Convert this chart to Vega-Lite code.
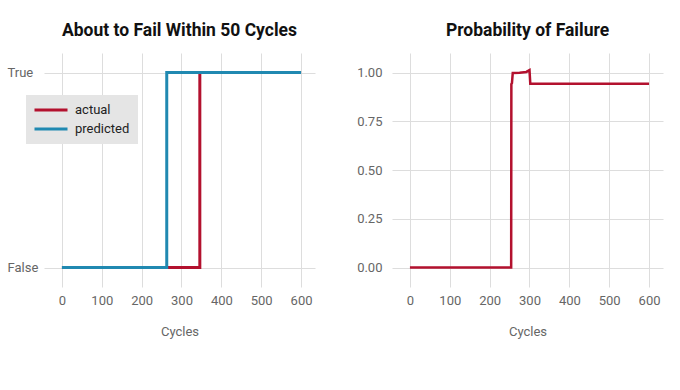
{
  "$schema": "https://vega.github.io/schema/vega-lite/v6.json",
  "background": "white",
  "padding": {"left": 7, "top": 21, "right": 5, "bottom": 5},
  "spacing": 41,
  "datasets": {
    "fail": [
      {"cycle": 0, "value": 0, "series": "actual"},
      {"cycle": 346, "value": 1, "series": "actual"},
      {"cycle": 600, "value": 1, "series": "actual"},
      {"cycle": 0, "value": 0, "series": "predicted"},
      {"cycle": 263, "value": 1, "series": "predicted"},
      {"cycle": 600, "value": 1, "series": "predicted"}
    ],
    "prob": [
      {"cycle": 0, "p": 0},
      {"cycle": 254, "p": 0},
      {"cycle": 254.5, "p": 0.94},
      {"cycle": 256, "p": 0.945},
      {"cycle": 258, "p": 0.998},
      {"cycle": 275, "p": 0.999},
      {"cycle": 292, "p": 1.003},
      {"cycle": 300, "p": 1.012},
      {"cycle": 302, "p": 0.942},
      {"cycle": 600, "p": 0.942}
    ]
  },
  "hconcat": [
    {
      "width": 271,
      "height": 234,
      "title": "About to Fail Within 50 Cycles",
      "data": {"name": "fail"},
      "mark": {"type": "line", "interpolate": "step-after", "strokeWidth": 3},
      "encoding": {
        "x": {
          "field": "cycle", "type": "quantitative",
          "scale": {"domain": [-45, 635], "nice": false, "zero": false},
          "axis": {"values": [0, 100, 200, 300, 400, 500, 600], "title": "Cycles"}
        },
        "y": {
          "field": "value", "type": "quantitative",
          "scale": {"domain": [-0.1, 1.1], "nice": false},
          "axis": {
            "values": [0, 1], "title": null,
            "labelExpr": "datum.value == 1 ? 'True' : 'False'",
            "labelAlign": "left", "labelPadding": 37
          }
        },
        "color": {
          "field": "series", "type": "nominal",
          "scale": {"domain": ["actual", "predicted"], "range": ["#B3112E", "#2089B1"]},
          "legend": {
            "orient": "none", "legendX": -18, "legendY": 42, "title": null,
            "fillColor": "#E5E5E5", "padding": 8,
            "symbolType": "M-3,0H3", "symbolSize": 121, "symbolStrokeWidth": 3,
            "symbolOffset": 10, "rowPadding": 5, "labelOffset": 17,
            "labelFontSize": 13, "labelColor": "#222222"
          }
        }
      }
    },
    {
      "width": 271,
      "height": 234,
      "title": "Probability of Failure",
      "data": {"name": "prob"},
      "mark": {"type": "line", "strokeWidth": 2.5, "color": "#B3112E"},
      "encoding": {
        "x": {
          "field": "cycle", "type": "quantitative",
          "scale": {"domain": [-45, 635], "nice": false, "zero": false},
          "axis": {"values": [0, 100, 200, 300, 400, 500, 600], "title": "Cycles"}
        },
        "y": {
          "field": "p", "type": "quantitative",
          "scale": {"domain": [-0.1, 1.1], "nice": false},
          "axis": {"values": [0, 0.25, 0.5, 0.75, 1], "format": ".2f", "title": null, "labelPadding": 10}
        }
      }
    }
  ],
  "config": {
    "font": "Roboto",
    "view": {"stroke": null},
    "title": {"fontSize": 17.5, "fontWeight": "bold", "color": "#111111", "frame": "group", "offset": 14},
    "axis": {
      "domain": false, "ticks": false,
      "grid": true, "gridColor": "#DDDDDD", "gridWidth": 1,
      "labelColor": "#666666", "labelFontSize": 13, "labelFont": "Roboto",
      "titleColor": "#666666", "titleFontSize": 13, "titleFontWeight": "normal",
      "labelPadding": 7, "titlePadding": 18
    }
  }
}
